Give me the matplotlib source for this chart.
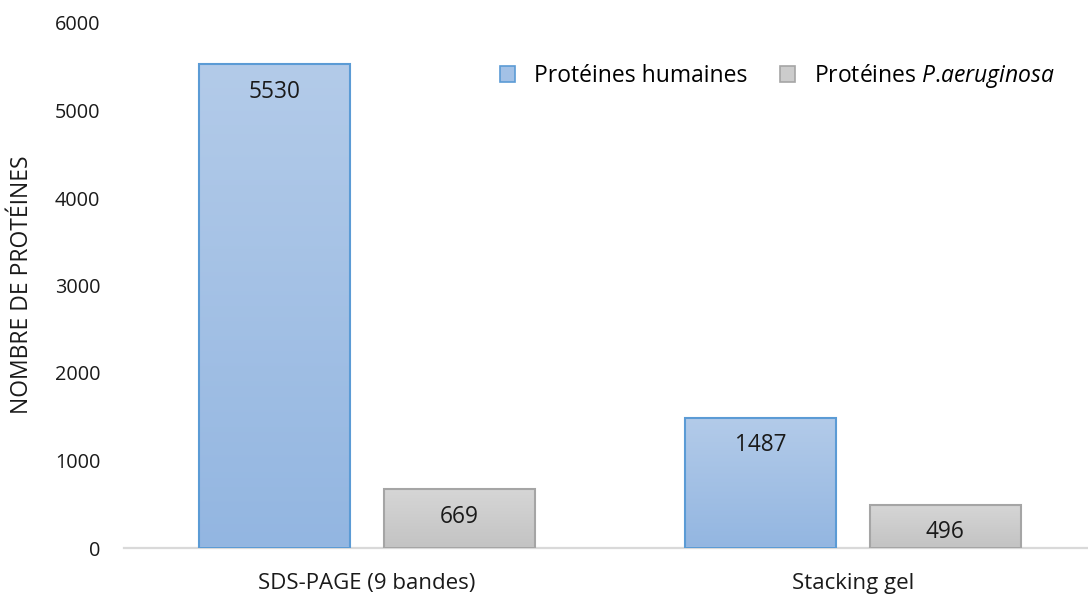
import matplotlib.pyplot as plt
import numpy as np
from matplotlib.colors import LinearSegmentedColormap
from matplotlib.patches import Patch

plt.rcParams['font.family'] = ['Open Sans', 'DejaVu Sans']
plt.rcParams['mathtext.fontset'] = 'custom'
plt.rcParams['mathtext.rm'] = 'Open Sans'
plt.rcParams['mathtext.it'] = 'Open Sans:italic'

categories = ['SDS-PAGE (9 bandes)', 'Stacking gel']
humaines = [5530, 1487]
aeruginosa = [669, 496]
series_names = ['Protéines humaines', r'Protéines $\it{P}$.$\it{aeruginosa}$']

fig = plt.figure(figsize=(10.88, 5.96), dpi=100)
ax = fig.add_axes([124 / 1088, 48 / 596, 972 / 1088, 525 / 596])

x = np.arange(len(categories))
width = 0.31
offset = 0.19

styles = [
    dict(top='#b3cbe9', bottom='#93b6e1', edge='#5b9bd5'),
    dict(top='#d6d6d6', bottom='#c3c3c3', edge='#a5a5a5'),
]

grad = np.linspace(0, 1, 256).reshape(-1, 1)

for values, pos, st in [(humaines, x - offset, styles[0]), (aeruginosa, x + offset, styles[1])]:
    cmap = LinearSegmentedColormap.from_list('g', [st['top'], st['bottom']])
    bars = ax.bar(pos, values, width, facecolor='none', edgecolor=st['edge'],
                  linewidth=1.5, zorder=3)
    for b, v in zip(bars, values):
        x0 = b.get_x()
        im = ax.imshow(grad, cmap=cmap, aspect='auto', origin='upper',
                       extent=[x0, x0 + b.get_width(), 0, v], zorder=2)
        im.set_clip_path(b)
        # value label inside the top of the bar
        px = ax.transData.transform((0, v))[1] - ax.transData.transform((0, 0))[1]
        shift = min(27.5, px / 2 - 3.5)
        ax.annotate(f'{v}', (b.get_x() + b.get_width() / 2, v), xytext=(0, -shift),
                    textcoords='offset pixels', ha='center', va='center',
                    fontsize=16.3, color='#1a1a1a', zorder=4)

ax.set_xlim(-0.5, 1.5)
ax.set_ylim(0, 6000)
ax.set_yticks(range(0, 6001, 1000))
ax.set_xticks(x)
ax.set_xticklabels(categories)
ax.tick_params(axis='both', length=0, colors='#1a1a1a')
ax.tick_params(axis='y', pad=17, labelsize=14.3)
ax.tick_params(axis='x', pad=18, labelsize=16)

for side in ['top', 'right', 'left']:
    ax.spines[side].set_visible(False)
ax.spines['bottom'].set_color('#d9d9d9')
ax.spines['bottom'].set_linewidth(1.6)

fig.text(22 / 1088, 1 - 285 / 596, 'NOMBRE DE PROTÉINES', rotation=90,
         ha='center', va='center', fontsize=16.5, color='#1a1a1a')

handles = [Patch(facecolor='#a3c1e6', edgecolor='#5b9bd5', linewidth=1.2),
           Patch(facecolor='#cccccc', edgecolor='#a5a5a5', linewidth=1.2)]
ax.legend(handles, series_names, loc='center left', ncol=2, frameon=False,
          bbox_to_anchor=(500 / 1088, 1 - 76 / 596), bbox_transform=fig.transFigure,
          fontsize=16.5, handlelength=0.65, handleheight=0.65, handletextpad=0.85,
          columnspacing=1.4, borderpad=0, borderaxespad=0)

fig.savefig('out.png', dpi=100)
